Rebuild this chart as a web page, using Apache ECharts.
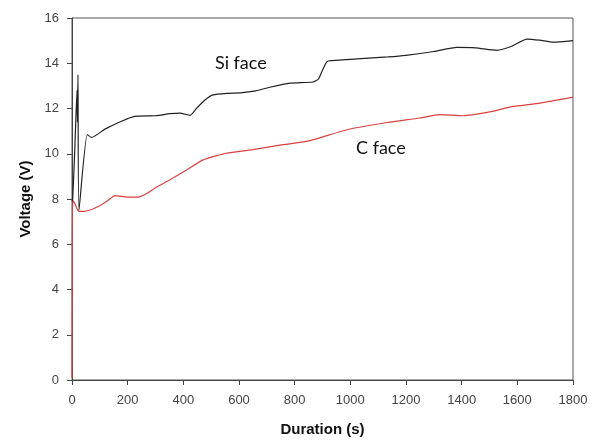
<!DOCTYPE html>
<html lang="en">
<head>
<meta charset="UTF-8" />
<title>Voltage vs duration</title>
<script type="text/javascript" src="https://cdn.jsdelivr.net/npm/echarts@6/dist/echarts.min.js"></script>
<style>
    html, body { margin: 0; padding: 0; background: #fff; }
    #main { width: 605px; height: 444px; }
</style>
</head>
<body>
<!-- chart container -->
<div id="main"></div>
<script type="text/javascript">
    // Si face trace: duration (s), voltage (V)
    var siTime = [0, 2.5, 10, 18, 19.5, 21.5, 25, 55, 70, 120, 180, 226, 300, 352, 388, 424, 449, 480, 507, 560, 604, 660, 711, 783, 866, 885, 898, 912, 920, 1024, 1135, 1200, 1300, 1383, 1450, 1527, 1580, 1635, 1680, 1729, 1800];
    var siVolt = [7.9, 8.0, 10.2, 12.8, 11.4, 13.5, 7.5, 10.85, 10.72, 11.1, 11.45, 11.65, 11.68, 11.77, 11.8, 11.7, 12.03, 12.4, 12.6, 12.67, 12.69, 12.78, 12.94, 13.12, 13.17, 13.3, 13.64, 14.0, 14.1, 14.19, 14.28, 14.35, 14.52, 14.7, 14.68, 14.57, 14.75, 15.07, 15.02, 14.93, 15.0];

    // C face trace
    var cTime = [0, 1, 2.5, 10, 25, 45, 100, 130, 155, 200, 238, 270, 300, 352, 413, 471, 520, 557, 650, 758, 855, 988, 1132, 1250, 1322, 1405, 1500, 1585, 1682, 1800];
    var cVolt = [0.1, 4.5, 7.95, 7.8, 7.45, 7.45, 7.7, 7.95, 8.15, 8.08, 8.08, 8.25, 8.5, 8.85, 9.29, 9.73, 9.92, 10.03, 10.18, 10.4, 10.58, 11.06, 11.38, 11.58, 11.73, 11.68, 11.85, 12.09, 12.24, 12.5];

    var xTicks = [0, 200, 400, 600, 800, 1000, 1200, 1400, 1600, 1800];
    var yTicks = [0, 2, 4, 6, 8, 10, 12, 14, 16];

    function pairs(xs, ys) {
        var out = [];
        for (var i = 0; i < xs.length; i++) {
            out.push([xs[i], ys[i]]);
        }
        return out;
    }

    var myChart = echarts.init(document.getElementById('main'));

    var axisFont = 'Liberation Sans, Arial, sans-serif';
    var labelFont = '18px Lato, "Open Sans", sans-serif';

    var options = {
        animation: false,
        grid: {
            left: 72, right: 32, top: 18, bottom: 64,
            show: true,
            borderColor: '#555',
            borderWidth: 1
        },
        xAxis: {
            type: 'value',
            min: xTicks[0],
            max: xTicks[xTicks.length - 1],
            interval: 200,
            name: 'Duration (s)',
            nameLocation: 'middle',
            nameGap: 42,
            nameTextStyle: { fontFamily: axisFont, fontSize: 15, fontWeight: 'bold', color: '#111' },
            axisLine: { lineStyle: { color: '#444', width: 1 } },
            axisTick: { length: 5, lineStyle: { color: '#444' } },
            axisLabel: {
                fontFamily: axisFont, fontSize: 13, color: '#444', margin: 14,
                formatter: function (v) { return String(v); }
            },
            splitLine: { show: false }
        },
        yAxis: {
            type: 'value',
            min: yTicks[0],
            max: yTicks[yTicks.length - 1],
            interval: 2,
            name: 'Voltage (V)',
            nameLocation: 'middle',
            nameGap: 38,
            nameTextStyle: { fontFamily: axisFont, fontSize: 15, fontWeight: 'bold', color: '#111' },
            axisLine: { show: true, lineStyle: { color: '#444', width: 1 } },
            axisTick: { show: true, length: 5, lineStyle: { color: '#444' } },
            axisLabel: { fontFamily: axisFont, fontSize: 13, color: '#444', margin: 13 },
            splitLine: { show: false }
        },
        graphic: [
            { type: 'text', left: 215, top: 54, style: { text: 'Si face', font: labelFont, fill: '#111' } },
            { type: 'text', left: 356, top: 139, style: { text: 'C face', font: labelFont, fill: '#111' } }
        ],
        series: [
            {
                name: 'C face',
                type: 'line',
                data: pairs(cTime, cVolt),
                showSymbol: false,
                smooth: 0.2,
                lineStyle: { color: '#d8433f', width: 1.2 }
            },
            {
                name: 'Si face',
                type: 'line',
                data: pairs(siTime, siVolt),
                showSymbol: false,
                smooth: 0.2,
                lineStyle: { color: '#222', width: 1.2 }
            }
        ]
    };

    myChart.setOption(options);
</script>
</body>
</html>
